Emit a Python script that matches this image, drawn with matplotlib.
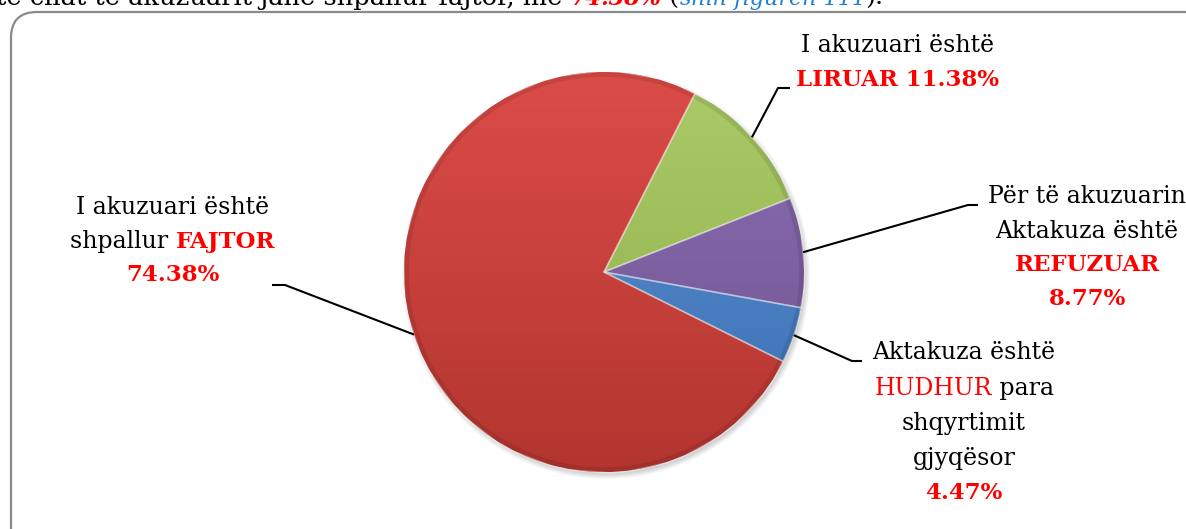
import numpy as np
import matplotlib
matplotlib.use("Agg")
import matplotlib.pyplot as plt
from matplotlib.patches import FancyBboxPatch, Circle
from matplotlib.colors import LinearSegmentedColormap

# te dhenat e grafikut
kategorite = ["LIRUAR", "REFUZUAR", "HUDHUR", "FAJTOR"]
perqindjet = [11.38, 8.77, 4.47, 74.38]
ngjyrat_larte = ["#abca68", "#8d70b3", "#5d93d3", "#db4c48"]
ngjyrat_poshte = ["#8dad4b", "#6c508e", "#3a6db0", "#b3352f"]

W, H = 1186, 529
fig = plt.figure(figsize=(W / 100, H / 100), dpi=100)
ax = fig.add_axes([0, 0, 1, 1])
ax.set_xlim(0, W)
ax.set_ylim(0, H)
ax.axis("off")

SERIF = "DejaVu Serif"
FS = 17
ZI = dict(family=SERIF, size=FS, color="black")
KUQ = dict(family=SERIF, size=FS - 0.5, color="#ff0000", weight="bold")
KUQ_N = dict(family=SERIF, size=FS, color="#ff0000")

renderer = fig.canvas.get_renderer()


def rresht(x, y, pjeset):
    """Vizaton nje rresht me disa stile, te qendruar ne x."""
    tekste = []
    gjeresi = []
    for s, kw in pjeset:
        t = ax.text(0, y, s, va="baseline", ha="left", **kw)
        gjeresi.append(t.get_window_extent(renderer).width)
        tekste.append(t)
    x0 = x - sum(gjeresi) / 2
    for t, g in zip(tekste, gjeresi):
        t.set_x(x0)
        x0 += g


# korniza me qoshe te rrumbullakosura
korniza = FancyBboxPatch((11, -30), 1200, 547,
                         boxstyle="round,pad=0,rounding_size=26",
                         fc="white", ec="#8a8a8a", lw=1.6)
ax.add_patch(korniza)

# teksti i prere lart
y_top = H - 5
pjeset_top = [("të cilat të akuzuarit janë shpallur fajtor, me ", dict(family=SERIF, size=18.5, color="black")),
              ("74.38%", dict(family=SERIF, size=16, color="#ff0000", weight="bold", style="italic")),
              (" (", dict(family=SERIF, size=18.5, color="black")),
              ("shih figurën 111", dict(family=SERIF, size=16, color="#1f7fd6", style="italic")),
              (").", dict(family=SERIF, size=18.5, color="black"))]
x0 = -4
for s, kw in pjeset_top:
    t = ax.text(x0, y_top, s, va="baseline", ha="left", **kw)
    x0 += t.get_window_extent(renderer).width

# pite
qendra = (604, 257)
R = 200
for k in range(6):
    ax.add_patch(Circle((qendra[0] + 2, qendra[1] - 3), R + 4 - k,
                        color="black", alpha=0.03, lw=0))

wedges, _ = ax.pie(perqindjet, colors=ngjyrat_larte, startangle=63,
                   counterclock=False, center=qendra, radius=R,
                   wedgeprops=dict(lw=0), frame=True)
ax.set_xlim(0, W)
ax.set_ylim(0, H)
ax.set_aspect("equal")
ax.axis("off")

grad = np.linspace(1, 0, 256).reshape(-1, 1)
for w, c1, c2 in zip(wedges, ngjyrat_larte, ngjyrat_poshte):
    cmap = LinearSegmentedColormap.from_list("g", [c2, c1])
    im = ax.imshow(grad, cmap=cmap, extent=(qendra[0] - R, qendra[0] + R, qendra[1] - R, qendra[1] + R),
                   origin="upper", aspect="auto", zorder=2)
    im.set_clip_path(w)
    # buza e erret e harkut
    rreth = Circle(qendra, R - 2, fill=False, ec="black", lw=4, alpha=0.09, zorder=3)
    ax.add_patch(rreth)
    rreth.set_clip_path(w)
    ax.add_patch(plt.Polygon(w.get_path().vertices, closed=True, fill=False,
                             transform=w.get_transform(), ec="white", lw=1.2, alpha=0.35, zorder=3))
ax.set_xlim(0, W)
ax.set_ylim(0, H)

# vijat udhezuese
def pika(w):
    kendi = np.deg2rad((w.theta1 + w.theta2) / 2)
    return qendra[0] + R * np.cos(kendi), qendra[1] + R * np.sin(kendi)


berrylat = [(778, H - 88, 790), (968, H - 205, 978), (852, H - 361, 862), (285, H - 285, 272)]
for w, (ex, ey, hx) in zip(wedges, berrylat):
    px, py = pika(w)
    ax.plot([px, ex, hx], [py, ey, ey], color="black", lw=1.5, zorder=4,
            solid_capstyle="butt")

# etiketat
rresht(898, H - 52, [("I akuzuari është", ZI)])
rresht(897, H - 86, [("LIRUAR 11.38%", KUQ)])

rresht(173, H - 214, [("I akuzuari është", ZI)])
rresht(173, H - 248, [("shpallur ", ZI), ("FAJTOR", KUQ)])
rresht(173, H - 281, [("74.38%", KUQ)])

rresht(1087, H - 203, [("Për të akuzuarin", ZI)])
rresht(1087, H - 238, [("Aktakuza është", ZI)])
rresht(1087, H - 271, [("REFUZUAR", KUQ)])
rresht(1087, H - 305, [("8.77%", KUQ)])

rresht(964, H - 359, [("Aktakuza është", ZI)])
rresht(964, H - 395, [("HUDHUR", KUQ_N), (" para", ZI)])
rresht(964, H - 430, [("shqyrtimit", ZI)])
rresht(964, H - 465, [("gjyqësor", ZI)])
rresht(964, H - 499, [("4.47%", KUQ)])

fig.savefig("out.png", dpi=100)
